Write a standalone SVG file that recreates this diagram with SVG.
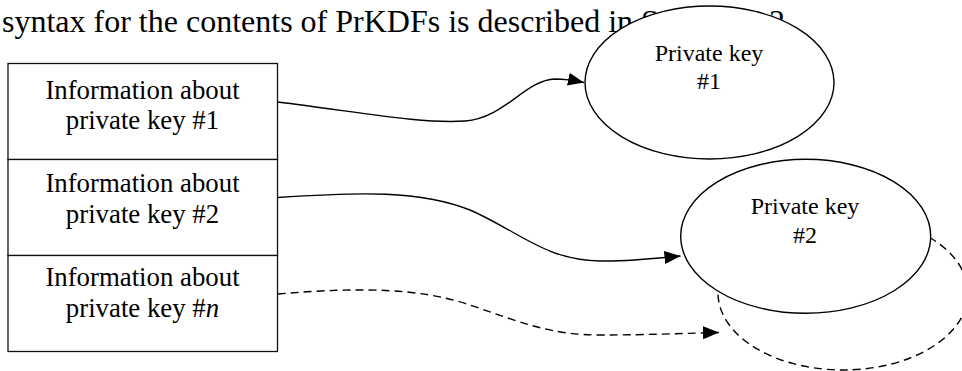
<svg xmlns="http://www.w3.org/2000/svg" width="962" height="371" viewBox="0 0 962 371">
<style>
text{font-family:"Liberation Serif","Times New Roman",serif;fill:#000}
.t{font-size:32px}
.c{font-size:26.8px;text-anchor:middle}
.e{font-size:24px;text-anchor:middle}
.box{fill:#fff;stroke:#111;stroke-width:1.3}
.ell{fill:#fff;stroke:#000;stroke-width:1.4}
.conn{fill:none;stroke:#000;stroke-width:1.4}
.dash{stroke-dasharray:8 5}
</style>
<defs>
<marker id="arr" markerUnits="userSpaceOnUse" markerWidth="17" markerHeight="13" refX="16" refY="6.5" orient="auto">
<path d="M0,0 L16,6.5 L0,13 z" fill="#000"/>
</marker>
</defs>
<text class="t" x="2" y="32">syntax for the contents of PrKDFs is described in Section 6.2</text>
<g id="table">
<rect class="box" x="8" y="63.5" width="269.5" height="96"/>
<text class="c" x="142.5" y="98.5">Information about</text>
<text class="c" x="142.5" y="129">private key #1</text>
<rect class="box" x="8" y="159.5" width="269.5" height="96"/>
<text class="c" x="142.5" y="191.8">Information about</text>
<text class="c" x="142.5" y="222.7">private key #2</text>
<rect class="box" x="8" y="255.5" width="269.5" height="96"/>
<text class="c" x="142.5" y="286">Information about</text>
<text class="c" x="142.5" y="316.5">private key #<tspan font-style="italic">n</tspan></text>
</g>
<g id="keyn">
<ellipse class="conn dash" cx="843" cy="293" rx="125" ry="77"/>
</g>
<g id="key1">
<ellipse class="ell" cx="709.5" cy="82.5" rx="124.5" ry="76.5"/>
<text class="e" x="709" y="60.7">Private key</text>
<text class="e" x="709" y="88.7">#1</text>
</g>
<g id="key2">
<ellipse class="ell" cx="805.7" cy="236.3" rx="125" ry="77"/>
<text class="e" x="805" y="214.3">Private key</text>
<text class="e" x="805" y="242.7">#2</text>
</g>
<g id="connectors">
<path class="conn" marker-end="url(#arr)" d="M277.5,102 C360,112 420,124 465,121 C505,118 525,80 555,79 C563,79 572,80 584,82.5"/>
<path class="conn" marker-end="url(#arr)" d="M277.5,197.5 C360,192 420,190 470,210 C520,232 545,260 600,261 C630,261.5 660,258 680.5,256"/>
<path class="conn dash" marker-end="url(#arr)" d="M277.5,294 C360,287 420,288 470,305 C520,322 550,335 600,335 C650,335 690,333 719,332.5"/>
</g>
</svg>
